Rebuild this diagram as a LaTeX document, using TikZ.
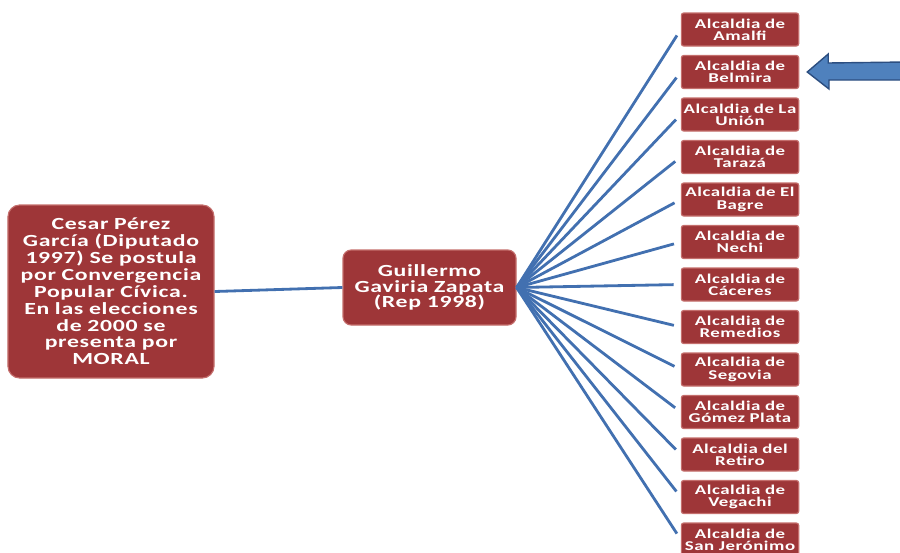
\documentclass[tikz,border=0pt]{standalone}
\usepackage{fontspec}
\setmainfont{Carlito}[FakeStretch=1.4,LetterSpace=4]
\usetikzlibrary{positioning}

\definecolor{boxred}{RGB}{158,54,56}
\definecolor{boxrim}{RGB}{196,110,108}
\definecolor{linkblue}{RGB}{66,112,176}
\definecolor{arrowblue}{RGB}{79,129,189}
\definecolor{arrowrim}{RGB}{44,78,128}

\begin{document}
\begin{tikzpicture}[x=0.03cm,y=-0.03cm]
  \tikzset{
    redbox/.style={draw=boxrim,line width=1pt,fill=boxred,text=white,
      font=\bfseries,align=center,inner sep=1pt},
    bigbox/.style={redbox,rounded corners=10pt,minimum width=6.18cm,
      minimum height=5.19cm,text width=6.1cm,
      font=\bfseries\fontsize{14.5}{14.4}\selectfont},
    midbox/.style={redbox,rounded corners=7pt,minimum width=5.19cm,
      minimum height=2.25cm,text width=5.1cm,
      font=\bfseries\fontsize{14.5}{13.5}\selectfont},
    townbox/.style={redbox,rounded corners=2pt,minimum width=3.48cm,
      minimum height=0.99cm,text width=3.45cm,
      font=\bfseries\fontsize{11.5}{10.5}\selectfont},
    link/.style={draw=linkblue,line width=2.4pt}
  }
  \useasboundingbox (0,0) rectangle (900,552);

    % left and middle boxes
    \node[bigbox] (cesar) at (111,291.5) {Cesar Pérez\\ García (Diputado\\ 1997) Se postula\\ por Convergencia\\ Popular Cívica.\\ En las elecciones\\ de 2000 se\\ presenta por\\ MORAL};
    \node[midbox] (guillermo) at (429.5,287.5) {Guillermo\\ Gaviria Zapata\\ (Rep 1998)};
    \draw[link] (cesar.east) -- (guillermo.west);

    % the towns
    \foreach \i/\txt in {0/{Alcaldia de\\ Amalfi},1/{Alcaldia de\\ Belmira},
      2/{Alcaldia de La\\ Unión},3/{Alcaldia de\\ Tarazá},
      4/{Alcaldia de El\\ Bagre},5/{Alcaldia de\\ Nechi},
      6/{Alcaldia de\\ Cáceres},7/{Alcaldia de\\ Remedios},
      8/{Alcaldia de\\ Segovia},9/{Alcaldia de\\ Gómez Plata},
      10/{Alcaldia del\\ Retiro},11/{Alcaldia de\\ Vegachi},
      12/{Alcaldia de\\ San Jerónimo}}
    {
      \node[townbox] (town\i) at (740,29.5+42.5*\i) {\txt};
      \draw[link,shorten >=6pt] (guillermo.east) -- (town\i.west);
    }

    % pointer to Belmira
	\draw[fill=arrowblue,draw=arrowrim,line width=1.2pt]
      (town1.east) ++(8,0) coordinate (tip)
      -- ++(21,-18) -- ++(0,9) -- (905,62) -- (905,80)
      -- (829,80) -- ++(0,9) -- cycle;

  \end{tikzpicture}
\end{document}
